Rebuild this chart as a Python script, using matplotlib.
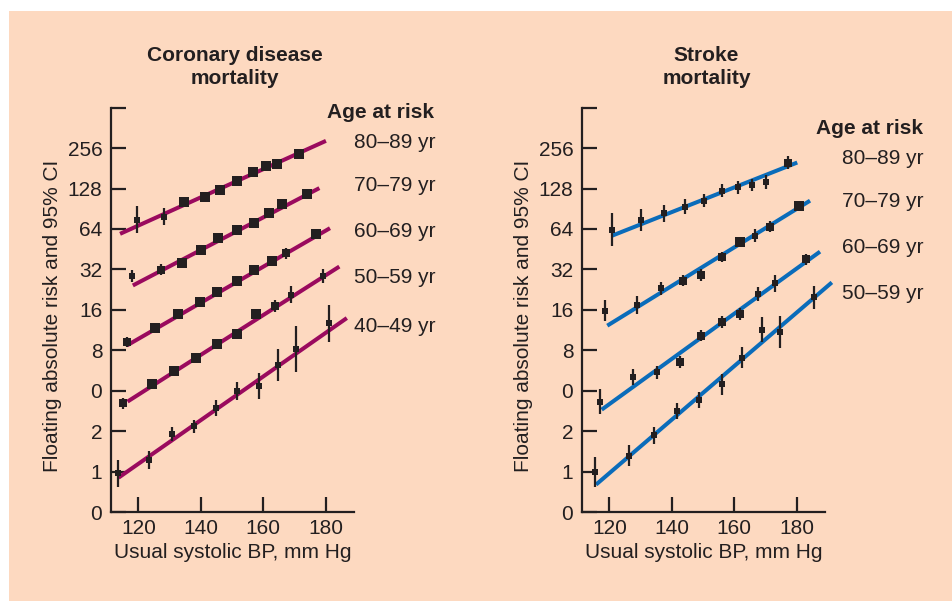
import numpy as np
import matplotlib
matplotlib.use("Agg")
import matplotlib.pyplot as plt
from matplotlib.patches import Rectangle

plt.rcParams['font.family'] = ['Liberation Sans', 'DejaVu Sans']

# Datos: presión sistólica habitual (mm Hg), riesgo absoluto flotante y semiancho del IC (log2)
AGES_CHD = ['80–89 yr', '70–79 yr', '60–69 yr', '50–59 yr', '40–49 yr']
AGES_STROKE = ['80–89 yr', '70–79 yr', '60–69 yr', '50–59 yr']

chd_sbp = [
    [119.5, 128.3, 134.7, 141.2, 146.3, 151.7, 156.7, 160.8, 164.5, 171.4],
    [117.9, 127.1, 133.8, 139.9, 145.6, 151.7, 156.9, 161.8, 166.0, 174.0],
    [116.3, 125.4, 132.6, 139.6, 145.3, 151.5, 157.2, 162.8, 167.4, 176.9],
    [114.9, 124.5, 131.5, 138.6, 145.3, 151.7, 157.6, 163.7, 169.0, 179.3],
    [113.6, 123.3, 130.7, 137.9, 145.0, 151.7, 158.5, 164.6, 170.4, 181.2],
]
chd_risk = [
    [75, 79, 101, 111, 125, 146, 170, 187, 194, 231],
    [28.6, 31.8, 36.0, 44.6, 55.3, 62.7, 71.0, 83.9, 98.4, 116],
    [9.19, 11.7, 14.8, 18.3, 21.7, 26.2, 31.6, 36.8, 42.2, 58.5],
    [3.23, 4.47, 5.62, 7.01, 8.88, 10.6, 14.9, 17.2, 20.7, 28.6],
    [0.97, 1.22, 1.91, 2.17, 2.97, 4.0, 4.32, 6.19, 8.17, 12.7],
]
chd_ci = [
    [0.33, 0.21, 0.12, 0.12, 0.08, 0.08, 0.08, 0.12, 0.12, 0.08],
    [0.16, 0.14, 0.10, 0.08, 0.08, 0.08, 0.08, 0.08, 0.08, 0.08],
    [0.13, 0.08, 0.08, 0.08, 0.08, 0.08, 0.08, 0.11, 0.14, 0.08],
    [0.14, 0.11, 0.08, 0.08, 0.08, 0.10, 0.11, 0.15, 0.21, 0.17],
    [0.33, 0.22, 0.18, 0.17, 0.19, 0.22, 0.32, 0.40, 0.56, 0.45],
]
# rectas ajustadas: (sbp inicial, sbp final, riesgo inicial, riesgo final)
chd_fit = [
    (114.1, 180.1, 58.9, 290),
    (118.2, 178.0, 24.3, 129),
    (116.3, 181.4, 8.69, 64.9),
    (116.5, 184.4, 3.32, 33.6),
    (113.6, 186.8, 0.90, 13.9),
]

stroke_sbp = [
    [120.7, 130.1, 137.5, 144.3, 150.3, 156.1, 161.2, 165.8, 170.1, 177.2],
    [118.6, 128.7, 136.5, 143.6, 149.5, 156.0, 161.8, 166.6, 171.4, 180.7],
    [117.1, 127.5, 135.3, 142.6, 149.4, 156.1, 161.9, 167.5, 173.0, 183.1],
    [115.5, 126.2, 134.2, 141.6, 148.8, 156.0, 162.4, 168.8, 174.8, 185.7],
]
stroke_risk = [
    [63.1, 75.1, 83.9, 93.7, 104, 123, 131, 136, 144, 200],
    [15.8, 17.5, 23.1, 26.4, 29.2, 39.7, 50.9, 56.9, 66.7, 95.7],
    [3.32, 5.06, 5.50, 6.54, 10.3, 13.0, 14.9, 21.0, 25.3, 38.1],
    [1.0, 1.31, 1.87, 2.83, 3.41, 4.47, 7.06, 11.4, 10.9, 19.8],
]
stroke_ci = [
    [0.41, 0.27, 0.21, 0.19, 0.16, 0.16, 0.16, 0.16, 0.17, 0.15],
    [0.27, 0.22, 0.16, 0.14, 0.15, 0.13, 0.10, 0.16, 0.14, 0.08],
    [0.30, 0.20, 0.16, 0.15, 0.14, 0.14, 0.15, 0.17, 0.21, 0.14],
    [0.37, 0.26, 0.21, 0.19, 0.20, 0.26, 0.26, 0.30, 0.39, 0.28],
]
stroke_fit = [
    (120.7, 180.2, 56.9, 200),
    (119.3, 184.3, 12.2, 104),
    (117.5, 187.5, 2.89, 43.4),
    (115.7, 191.3, 0.80, 25.6),
]

Y_TICKS = [0.5, 1, 2, 4, 8, 16, 32, 64, 128, 256, 512]
Y_LABELS = ['0', '1', '2', '0', '8', '16', '32', '64', '128', '256', '']
X_TICKS = [120, 140, 160, 180]

W, H = 952, 601
INK = '#231f20'
PEACH = '#fdd9c0'
FS = 15

fig = plt.figure(figsize=(W / 100, H / 100), dpi=100, facecolor='white')
fig.patches.append(Rectangle((9 / W, 0), 1, 1 - 11 / H, transform=fig.transFigure,
                             facecolor=PEACH, edgecolor='none', zorder=-10))


def px(x, y):
    return x / W, 1 - y / H


def panel(left_px, sbp, risk, ci, fit, color):
    x0, y0 = px(left_px, 512)
    ax = fig.add_axes([x0, y0, 243.3 / W, 404.3 / H])
    ax.patch.set_visible(False)
    ax.set_yscale('log', base=2)
    ax.set_xlim(111.1, 189.1)
    ax.set_ylim(0.5, 512)
    ax.minorticks_off()
    ax.set_yticks(Y_TICKS)
    ax.set_yticklabels(Y_LABELS)
    ax.set_xticks(X_TICKS)
    for s in ['top', 'right']:
        ax.spines[s].set_visible(False)
    for s in ['left', 'bottom']:
        ax.spines[s].set_color(INK)
        ax.spines[s].set_linewidth(1.6)
    ax.tick_params(axis='both', direction='in', length=11, width=1.6, color=INK,
                   labelsize=FS, labelcolor=INK)
    ax.tick_params(axis='y', pad=6)
    ax.tick_params(axis='x', pad=5)

    for xs, ys, es, (fx0, fx1, fy0, fy1) in zip(sbp, risk, ci, fit):
        ax.plot([fx0, fx1], [fy0, fy1], color=color, lw=2.9, solid_capstyle='butt',
                clip_on=False, zorder=2)
        ys = np.array(ys)
        es = np.array(es)
        lo = ys - ys / 2 ** es
        hi = ys * 2 ** es - ys
        ax.errorbar(xs, ys, yerr=[lo, hi], fmt='none', ecolor=INK, elinewidth=1.6,
                    capsize=0, zorder=3)
        # cuadrados más grandes para los puntos con IC más estrecho
        sizes = np.clip(0.8 / es, 5.0, 7.0)
        for xv, yv, ms in zip(xs, ys, sizes):
            ax.plot(xv, yv, 's', color=INK, ms=ms, mew=0, zorder=4)

    ax.set_xlabel('Usual systolic BP, mm Hg', fontsize=FS, color=INK)
    ax.xaxis.set_label_coords(0.5, -0.076)
    ax.set_ylabel('Floating absolute risk and 95% CI', fontsize=FS, color=INK)
    ax.yaxis.set_label_coords(-0.202, 0.484)
    return ax


panel(110.7, chd_sbp, chd_risk, chd_ci, chd_fit, '#9a0a5e')
panel(581.7, stroke_sbp, stroke_risk, stroke_ci, stroke_fit, '#0a6cba')

# títulos
for (tx, lines) in [(235.3, ['Coronary disease', 'mortality']), (706.5, ['Stroke', 'mortality'])]:
    for ty, t in zip([61, 84], lines):
        fig.text(*px(tx, ty), t, ha='center', va='baseline', fontsize=FS,
                 fontweight='bold', color=INK)

# etiquetas de grupos de edad
fig.text(*px(434, 118.3), 'Age at risk', ha='right', va='baseline', fontsize=FS,
         fontweight='bold', color=INK)
for ty, t in zip([148.3, 191, 236.7, 282.7, 332.3], AGES_CHD):
    fig.text(*px(435, ty), t, ha='right', va='baseline', fontsize=FS, color=INK)

fig.text(*px(923, 134), 'Age at risk', ha='right', va='baseline', fontsize=FS,
         fontweight='bold', color=INK)
for ty, t in zip([164, 206.7, 252.7, 299], AGES_STROKE):
    fig.text(*px(924, ty), t, ha='right', va='baseline', fontsize=FS, color=INK)

fig.savefig('out.png', dpi=100, facecolor=fig.get_facecolor())
